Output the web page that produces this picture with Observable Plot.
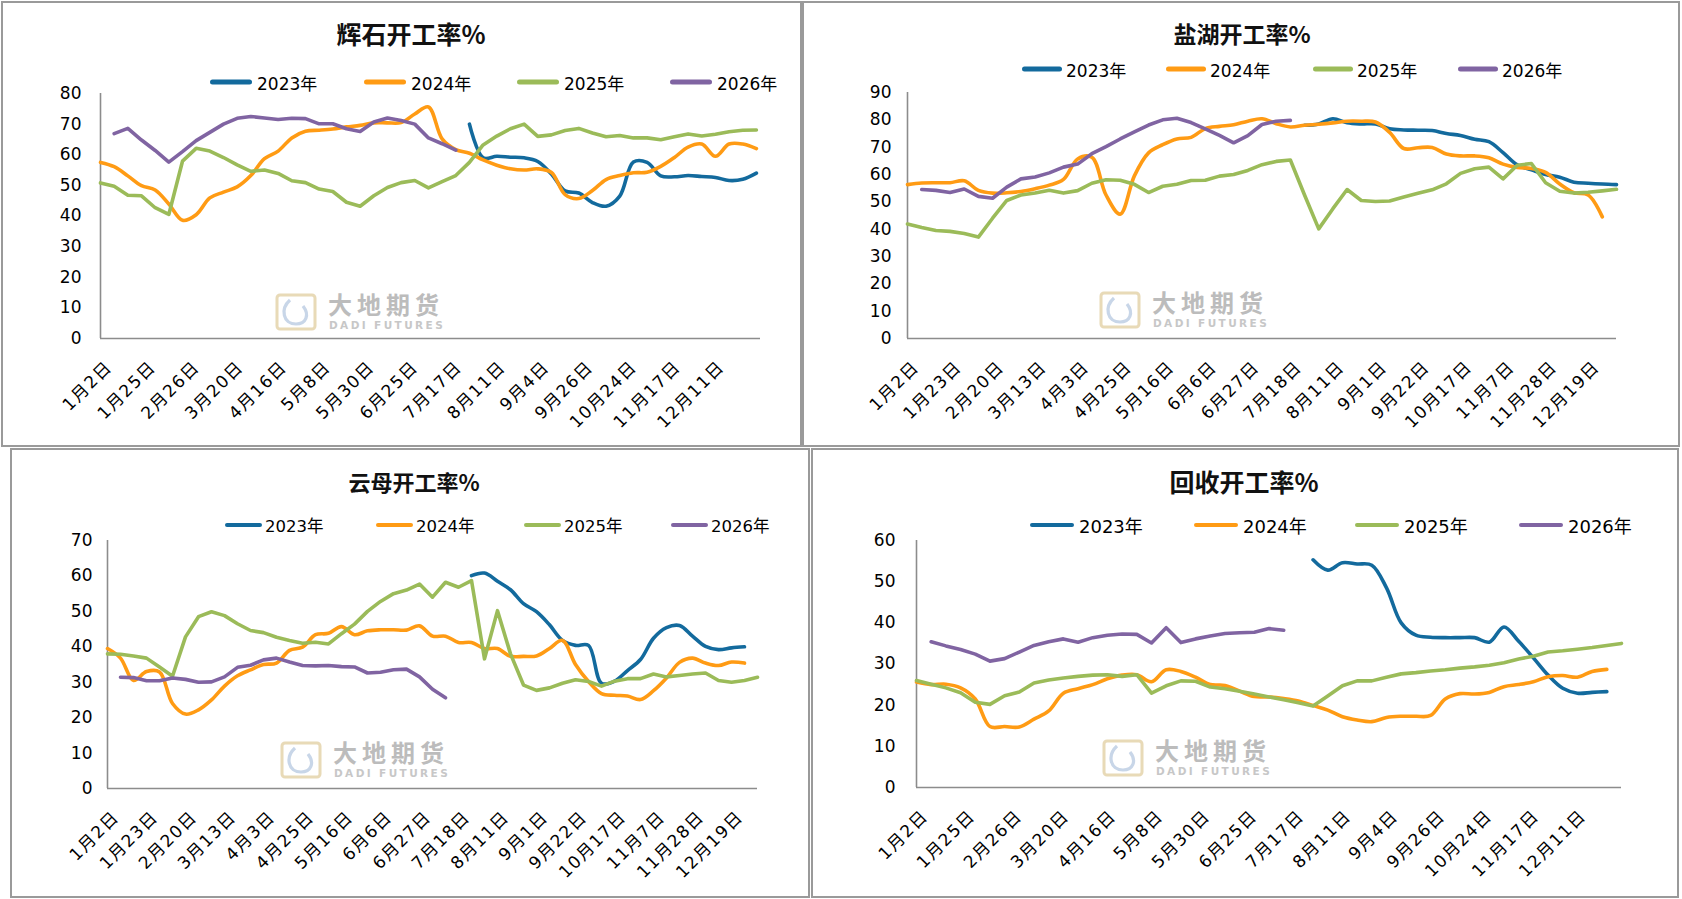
<!DOCTYPE html>
<html>
<head>
<meta charset="utf-8">
<script src="https://cdn.jsdelivr.net/npm/d3@7"></script>
<script src="https://cdn.jsdelivr.net/npm/@observablehq/plot@0.6"></script>
<style>
  html, body { margin: 0; padding: 0; background: #fff; }
  #page { position: relative; width: 1682px; height: 899px; overflow: hidden; background: #fff;
          font-family: "DejaVu Sans", "Noto Sans CJK SC", sans-serif; color: #000; }
  .panel { position: absolute; border: 2px solid #9a9a9a; box-sizing: border-box; }
  .title { position: absolute; transform: translate(-50%, -50%); font-family: "Noto Sans CJK SC", sans-serif;
           font-weight: 700; white-space: nowrap; color: #111; }
  .leg { position: absolute; transform: translateY(-50%); white-space: nowrap; display: flex; align-items: center; }
  .leg .sw { height: 4.6px; border-radius: 3px; }
  .wm { position: absolute; opacity: 0.9; }
  .wm .cn { position: absolute; left: 53px; top: -1px; line-height: 1; font-family: "Noto Sans CJK SC", sans-serif; font-weight: 700;
            font-size: 24px; letter-spacing: 5px; color: #b5b5b5; white-space: nowrap; }
  .wm .en { position: absolute; left: 54px; top: 27px; line-height: 1; font-family: "DejaVu Sans", sans-serif; font-weight: 700;
            font-size: 10.5px; letter-spacing: 2.4px; color: #c2c2c2; white-space: nowrap; }
  .chart { position: absolute; }
  .chart svg { overflow: visible; max-width: none; }
</style>
</head>
<body>
<div id="page"></div>
<script>
// ---------- categories / labels ----------
const years = ["2023年", "2024年", "2025年", "2026年"];
const lineColors = ["#136a9d", "#ff9b14", "#9bbb59", "#8064a2"];
const labelsA = ["1月2日","1月25日","2月26日","3月20日","4月16日","5月8日","5月30日","6月25日","7月17日","8月11日","9月4日","9月26日","10月24日","11月17日","12月11日"];
const labelsB = ["1月2日","1月23日","2月20日","3月13日","4月3日","4月25日","5月16日","6月6日","6月27日","7月18日","8月11日","9月1日","9月22日","10月17日","11月7日","11月28日","12月19日"];
const titles = ["辉石开工率%", "盐湖开工率%", "云母开工率%", "回收开工率%"];
const lead = n => Array(n).fill(null);

// ---------- 辉石 (weekly values) ----------
const spod2023 = lead(27).concat([70.0, 59.0, 59.5, 59.2, 59.0, 57.8, 53.7, 48.2, 47.5, 44.4, 43.2, 46.5, 57.6, 57.5, 53.1, 52.8, 53.2, 52.9, 52.6, 51.6, 52.0, 54.0]);
const spod2024 = [57.5, 56.1, 53.1, 49.9, 48.5, 43.9, 38.6, 40.4, 45.9, 47.8, 49.5, 53.2, 58.7, 61.2, 65.5, 67.7, 68.0, 68.4, 69.1, 69.6, 70.4, 70.4, 70.5, 73.3, 75.6, 65.2, 61.7, 60.5, 58.3, 56.6, 55.4, 55.0, 55.4, 54.2, 47.0, 45.7, 48.3, 51.9, 53.2, 54.1, 54.3, 56.2, 59.1, 62.5, 63.5, 59.5, 63.5, 63.5, 62.0];
const spod2025 = [50.8, 49.7, 46.8, 46.6, 42.7, 40.5, 57.9, 62.1, 61.2, 59.1, 56.7, 54.6, 55.0, 53.9, 51.5, 50.9, 48.8, 48.0, 44.5, 43.2, 46.6, 49.3, 50.9, 51.6, 49.2, 51.2, 53.2, 57.5, 63.2, 66.1, 68.5, 70.0, 66.0, 66.5, 67.9, 68.6, 67.1, 65.9, 66.3, 65.5, 65.5, 64.9, 65.9, 66.8, 66.1, 66.7, 67.5, 68.0, 68.1];
const spod2026 = [null, 66.9, 68.6, 64.8, 61.4, 57.6, 61.0, 64.6, 67.3, 70.0, 71.9, 72.5, 72.0, 71.5, 71.9, 71.8, 70.1, 70.1, 68.5, 67.6, 70.7, 72.0, 71.2, 70.0, 65.5, 63.6, 61.5];

// ---------- 盐湖 ----------
const salt2023 = lead(28).concat([78.0, 78.5, 80.4, 78.9, 78.5, 78.5, 76.7, 76.3, 76.2, 76.1, 75.0, 74.3, 72.9, 72.0, 68.0, 63.5, 61.7, 60.0, 59.0, 57.2, 56.8, 56.5, 56.3]);
const salt2024 = [56.3, 56.9, 57.0, 57.0, 57.7, 54.2, 53.2, 53.3, 53.8, 54.8, 56.1, 58.2, 65.7, 66.3, 52.5, 45.5, 59.5, 67.9, 70.9, 73.0, 73.6, 76.8, 77.6, 78.2, 79.5, 80.4, 78.6, 77.4, 78.0, 78.4, 78.9, 79.5, 79.5, 79.2, 75.4, 69.5, 69.8, 69.9, 67.5, 66.8, 66.8, 66.1, 63.8, 62.6, 62.2, 60.8, 56.5, 53.3, 52.5, 44.5];
const salt2025 = [41.9, 40.6, 39.5, 39.2, 38.4, 37.1, 44.0, 50.5, 52.5, 53.2, 54.2, 53.2, 54.1, 56.8, 58.1, 57.9, 56.4, 53.4, 55.7, 56.4, 57.8, 57.9, 59.4, 60.0, 61.5, 63.6, 64.8, 65.3, 52.5, 40.1, 47.5, 54.5, 50.5, 50.1, 50.3, 51.8, 53.1, 54.4, 56.6, 60.4, 62.1, 62.7, 58.4, 63.4, 64.0, 57.0, 53.9, 53.2, 53.5, 54.0, 54.6];
const salt2026 = [null, 54.5, 54.2, 53.4, 54.7, 52.0, 51.3, 55.4, 58.4, 59.1, 60.6, 62.7, 63.8, 67.6, 70.2, 73.0, 75.6, 78.1, 80.0, 80.6, 79.0, 76.7, 74.3, 71.6, 74.2, 78.3, 79.5, 79.8];

// ---------- 云母 ----------
const mica2023 = lead(28).concat([60.1, 60.8, 58.5, 56.1, 52.2, 49.9, 46.2, 41.8, 40.4, 40.4, 29.7, 30.3, 33.3, 36.4, 42.4, 45.4, 46.0, 43.0, 40.1, 39.2, 39.7, 40.0]);
const mica2024 = [39.5, 36.8, 30.5, 33.0, 32.9, 24.0, 21.0, 22.2, 25.0, 28.9, 31.8, 33.5, 35.0, 35.4, 39.0, 39.9, 43.4, 43.8, 45.7, 43.4, 44.5, 44.8, 44.8, 44.7, 45.9, 43.0, 43.0, 41.2, 41.2, 39.5, 39.5, 37.3, 37.3, 37.4, 39.5, 41.8, 35.0, 30.2, 26.8, 26.3, 26.1, 25.1, 27.6, 31.2, 35.6, 36.8, 35.4, 34.7, 35.7, 35.4];
const mica2025 = [38.0, 37.9, 37.4, 36.8, 34.3, 31.7, 42.8, 48.5, 49.9, 48.8, 46.5, 44.6, 44.0, 42.7, 41.8, 41.0, 41.3, 40.8, 43.7, 46.4, 50.0, 52.8, 55.0, 56.0, 57.7, 54.0, 58.2, 56.8, 58.7, 36.6, 50.2, 38.0, 29.2, 27.7, 28.4, 29.7, 30.7, 30.2, 28.9, 30.3, 31.0, 31.0, 32.3, 31.5, 31.9, 32.3, 32.6, 30.5, 30.0, 30.5, 31.4];
const mica2026 = [null, 31.4, 31.3, 30.4, 30.4, 31.2, 30.8, 30.0, 30.1, 31.5, 34.2, 34.8, 36.3, 36.8, 35.7, 34.7, 34.6, 34.7, 34.4, 34.3, 32.6, 32.8, 33.5, 33.7, 31.5, 28.0, 25.6];

// ---------- 回收 ----------
const rec2023 = lead(27).concat([55.3, 52.8, 54.6, 54.3, 54.0, 48.5, 40.0, 37.0, 36.5, 36.4, 36.4, 36.4, 35.3, 39.0, 35.5, 31.5, 27.3, 24.1, 22.9, 23.1, 23.3]);
const rec2024 = [25.6, 25.0, 25.1, 24.2, 21.5, 14.8, 14.8, 14.7, 16.6, 18.6, 22.9, 24.0, 25.0, 26.4, 27.3, 27.4, 25.7, 28.6, 28.2, 26.8, 25.0, 24.8, 23.4, 22.1, 22.0, 21.6, 21.0, 19.9, 18.8, 17.2, 16.4, 16.0, 17.0, 17.3, 17.3, 17.5, 21.5, 22.8, 22.7, 23.1, 24.5, 25.0, 25.7, 26.9, 27.2, 26.8, 28.2, 28.7];
const rec2025 = [26.0, 25.1, 24.2, 23.0, 20.7, 20.2, 22.3, 23.2, 25.4, 26.1, 26.6, 27.0, 27.3, 27.4, 27.0, 27.4, 22.9, 24.7, 25.9, 25.8, 24.4, 24.0, 23.4, 22.7, 22.0, 21.3, 20.6, 19.8, 22.2, 24.7, 25.9, 25.9, 26.8, 27.6, 27.9, 28.3, 28.6, 29.0, 29.3, 29.7, 30.3, 31.2, 31.9, 32.9, 33.2, 33.6, 34.0, 34.5, 35.0];
const rec2026 = [null, 35.4, 34.4, 33.5, 32.4, 30.7, 31.3, 32.9, 34.5, 35.4, 36.1, 35.3, 36.4, 37.0, 37.3, 37.2, 35.1, 38.8, 35.2, 36.1, 36.8, 37.4, 37.6, 37.7, 38.6, 38.2];

// ---------- layout (pixels of the page) ----------
const panels = [
  { box: [1, 1, 801, 446], plot: [100, 760, 93, 338], xMax: 48.3, yMax: 80, labels: labelsA, labelStep: 3.2, yPad: 19,
    title: [411, 33, 25], legY: 82, legX: [210, 364, 517, 670], legLen: 42, legGap: 5, legFont: 17,
    wm: [275, 293], series: [spod2023, spod2024, spod2025, spod2026] },
  { box: [802, 1, 878, 446], plot: [907, 1616, 92, 338], xMax: 50, yMax: 90, labels: labelsB, labelStep: 3, yPad: 16,
    title: [1242, 33, 23], legY: 69, legX: [1022, 1166, 1313, 1458], legLen: 40, legGap: 4, legFont: 17,
    wm: [1099, 291], series: [salt2023, salt2024, salt2025, salt2026] },
  { box: [10, 448, 800, 450], plot: [107, 757, 540, 788], xMax: 50, yMax: 70, labels: labelsB, labelStep: 3, yPad: 15,
    title: [414, 481, 22], legY: 525, legX: [225, 376, 524, 671], legLen: 37, legGap: 3, legFont: 16.5,
    wm: [280, 741], series: [mica2023, mica2024, mica2025, mica2026] },
  { box: [811, 448, 868, 450], plot: [916, 1621, 540, 787], xMax: 48, yMax: 60, labels: labelsA, labelStep: 3.2, yPad: 21,
    title: [1244, 481, 25], legY: 525, legX: [1030, 1194, 1355, 1519], legLen: 44, legGap: 5, legFont: 18,
    wm: [1102, 739], series: [rec2023, rec2024, rec2025, rec2026] }
];

const page = document.getElementById("page");

function el(tag, cls, css, html) {
  const e = document.createElement(tag);
  if (cls) e.className = cls;
  if (css) Object.assign(e.style, css);
  if (html != null) e.innerHTML = html;
  return e;
}

panels.forEach((p, pi) => {
  const [L, T, W, H] = p.box;
  const [x0, x1, yTop, yBottom] = p.plot;

  // frame
  page.appendChild(el("div", "panel", { left: L + "px", top: T + "px", width: W + "px", height: H + "px" }));

  // watermark
  const wm = el("div", "wm", { left: p.wm[0] + "px", top: p.wm[1] + "px" },
    '<svg width="42" height="38" style="position:absolute;left:0;top:0">' +
    '<rect x="2" y="2" width="38" height="34" rx="3" fill="none" stroke="#e6d6b0" stroke-width="3"/>' +
    '<path d="M15 7 C5 16, 8 31, 21 31 C31 31, 35 22, 28 13" fill="none" stroke="#c3d2e6" stroke-width="3.2"/>' +
    '</svg><div class="cn">大地期货</div><div class="en">DADI FUTURES</div>');
  page.appendChild(wm);

  // chart
  const marks = [
    Plot.ruleY([0], { stroke: "#8c8c8c", strokeWidth: 1.6 }),
    Plot.ruleX([0], { stroke: "#8c8c8c", strokeWidth: 1.6 }),
    Plot.text(d3.range(0, p.yMax + 1, 10), { y: d => d, text: d => String(d), frameAnchor: "left",
      textAnchor: "end", dx: -p.yPad, fontSize: 17, fill: "#000" }),
    Plot.text(p.labels, { x: (d, i) => i * p.labelStep, text: d => d, frameAnchor: "bottom", rotate: -45,
      textAnchor: "end", lineAnchor: "top", dx: 4, dy: 21, fontSize: 17, fill: "#000" })
  ];
  p.series.forEach((vals, s) => {
    marks.push(Plot.line(vals.map((v, k) => ({ k, v })), {
      x: "k", y: "v", stroke: lineColors[s], strokeWidth: 3.6,
      curve: s < 2 ? "catmull-rom" : "linear", strokeLinejoin: "round", strokeLinecap: "round"
    }));
  });

  const chart = Plot.plot({
    width: W, height: H,
    marginLeft: x0 - L, marginRight: L + W - x1, marginTop: yTop - T, marginBottom: T + H - yBottom,
    x: { domain: [0, p.xMax], axis: null },
    y: { domain: [0, p.yMax], axis: null },
    style: { background: "transparent", overflow: "visible",
             fontFamily: '"DejaVu Sans", "Noto Sans CJK SC", sans-serif', color: "#000" },
    marks
  });
  // widen the category labels a little, like the reference
  const textGroups = chart.querySelectorAll('g[aria-label="text"]');
  if (textGroups[1]) textGroups[1].style.letterSpacing = "1.5px";

  const holder = el("div", "chart", { left: L + "px", top: T + "px", width: W + "px", height: H + "px" });
  holder.appendChild(chart);
  page.appendChild(holder);

  // title
  page.appendChild(el("div", "title", { left: p.title[0] + "px", top: p.title[1] + "px", fontSize: p.title[2] + "px" }, titles[pi]));

  // legend
  years.forEach((name, s) => {
    const item = el("div", "leg", { left: p.legX[s] + "px", top: p.legY + "px", fontSize: p.legFont + "px" });
    item.appendChild(el("div", "sw", { width: p.legLen + "px", background: lineColors[s], marginRight: p.legGap + "px" }));
    item.appendChild(el("span", null, null, name));
    page.appendChild(item);
  });
});
</script>
</body>
</html>
